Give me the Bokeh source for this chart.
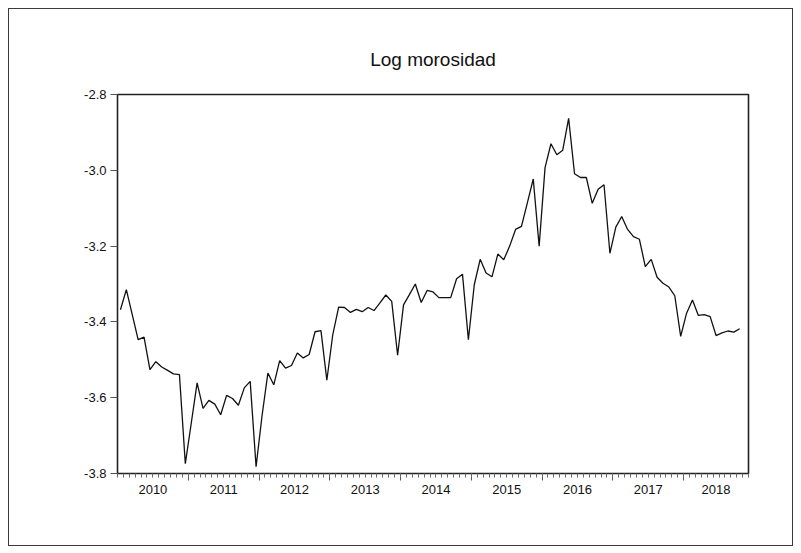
from bokeh.plotting import figure
from bokeh.models import FixedTicker, LinearAxis, Range1d, NumeralTickFormatter
from bokeh.embed import file_html
from bokeh.resources import INLINE

# Monthly log of the non-performing loan ratio, 2010M01 - 2018M10
first_year = 2010
log_morosidad = [
    -3.368, -3.315, -3.381, -3.447, -3.440, -3.526, -3.505, -3.519, -3.528, -3.537, -3.539, -3.774,  # 2010
    -3.668, -3.561, -3.628, -3.607, -3.617, -3.645, -3.594, -3.602, -3.620, -3.574, -3.557, -3.782,  # 2011
    -3.649, -3.535, -3.566, -3.502, -3.522, -3.515, -3.482, -3.495, -3.486, -3.426, -3.423, -3.554,  # 2012
    -3.434, -3.361, -3.362, -3.375, -3.367, -3.373, -3.362, -3.370, -3.350, -3.329, -3.346, -3.488,  # 2013
    -3.355, -3.328, -3.300, -3.349, -3.317, -3.321, -3.336, -3.336, -3.336, -3.286, -3.274, -3.447,  # 2014
    -3.302, -3.235, -3.271, -3.281, -3.221, -3.236, -3.200, -3.156, -3.148, -3.086, -3.023, -3.200,  # 2015
    -2.993, -2.930, -2.959, -2.947, -2.863, -3.009, -3.019, -3.019, -3.087, -3.050, -3.038, -3.219,  # 2016
    -3.150, -3.122, -3.156, -3.175, -3.182, -3.254, -3.235, -3.282, -3.298, -3.308, -3.331, -3.438,  # 2017
    -3.377, -3.342, -3.383, -3.381, -3.386, -3.436, -3.429, -3.424, -3.427, -3.418,                  # 2018
]
year_labels = ["2010", "2011", "2012", "2013", "2014", "2015", "2016", "2017", "2018"]
y_ticks = [-3.8, -3.6, -3.4, -3.2, -3.0, -2.8]
n_periods = 107  # sample runs through 2018M11

months = list(range(len(log_morosidad)))

# period slots: observation i sits in the middle of [i - 0.5, i + 0.5]
x_lo, x_hi = -0.5, n_periods - 0.5
slot_edges = [i - 0.5 for i in range(n_periods + 1)]
year_edges = [12 * k - 0.5 for k in range(1, len(year_labels))]
year_centers = []
for k in range(len(year_labels)):
    a = max(12 * k - 0.5, x_lo)
    b = min(12 * (k + 1) - 0.5, x_hi)
    year_centers.append((a + b) / 2)

FONT = "Liberation Sans"

p = figure(
    frame_width=631, frame_height=379,
    min_border_left=108, min_border_right=44, min_border_top=85, min_border_bottom=72,
    x_range=Range1d(x_lo, x_hi), y_range=Range1d(y_ticks[0], y_ticks[-1]),
    x_axis_type=None,
    output_backend="svg", toolbar_location=None,
    background_fill_color="white", border_fill_color="white",
)
p.margin = (8, 8, 8, 8)
p.styles = {"border": "1px solid #3a3a3a"}

p.title.text = "Log morosidad"
p.title.align = "center"
p.title.text_font = FONT
p.title.text_font_size = "19px"
p.title.text_font_style = "normal"
p.title.text_color = "#111111"
p.title.standoff = 49

p.outline_line_color = "#222222"
p.outline_line_width = 1.6
p.ygrid.visible = False

# y axis
ya = p.yaxis[0]
ya.ticker = FixedTicker(ticks=y_ticks)
ya.formatter = NumeralTickFormatter(format="0.0")
ya.axis_line_color = None
ya.major_tick_in = 0
ya.major_tick_out = 7
ya.major_tick_line_color = "#555555"
ya.minor_tick_line_color = None
ya.major_label_text_font = FONT
ya.major_label_text_font_size = "13px"
ya.major_label_text_color = "#111111"
ya.major_label_standoff = 4

# x axis: month and year-boundary ticks
x_ticks_axis = LinearAxis(
    ticker=FixedTicker(ticks=year_edges, minor_ticks=slot_edges),
    major_label_overrides={t: "" for t in year_edges},
    major_label_text_font_size="0px",
    major_label_standoff=0,
    axis_line_color=None,
    major_tick_in=0, major_tick_out=7,
    minor_tick_in=0, minor_tick_out=4,
    major_tick_line_color="#555555", minor_tick_line_color="#666666",
)
p.add_layout(x_ticks_axis, "below")

# x axis: year labels centred on each year's span
x_label_axis = LinearAxis(
    ticker=FixedTicker(ticks=year_centers, minor_ticks=[]),
    major_label_overrides={c: lab for c, lab in zip(year_centers, year_labels)},
    axis_line_color=None,
    major_tick_line_color=None, minor_tick_line_color=None,
    major_tick_in=0, major_tick_out=0,
    major_label_text_font=FONT,
    major_label_text_font_size="13px",
    major_label_text_color="#111111",
    major_label_standoff=4,
)
p.add_layout(x_label_axis, "below")

p.line(months, log_morosidad, line_color="#111111", line_width=1.3)

open("out.html", "w").write(file_html(p, INLINE))
